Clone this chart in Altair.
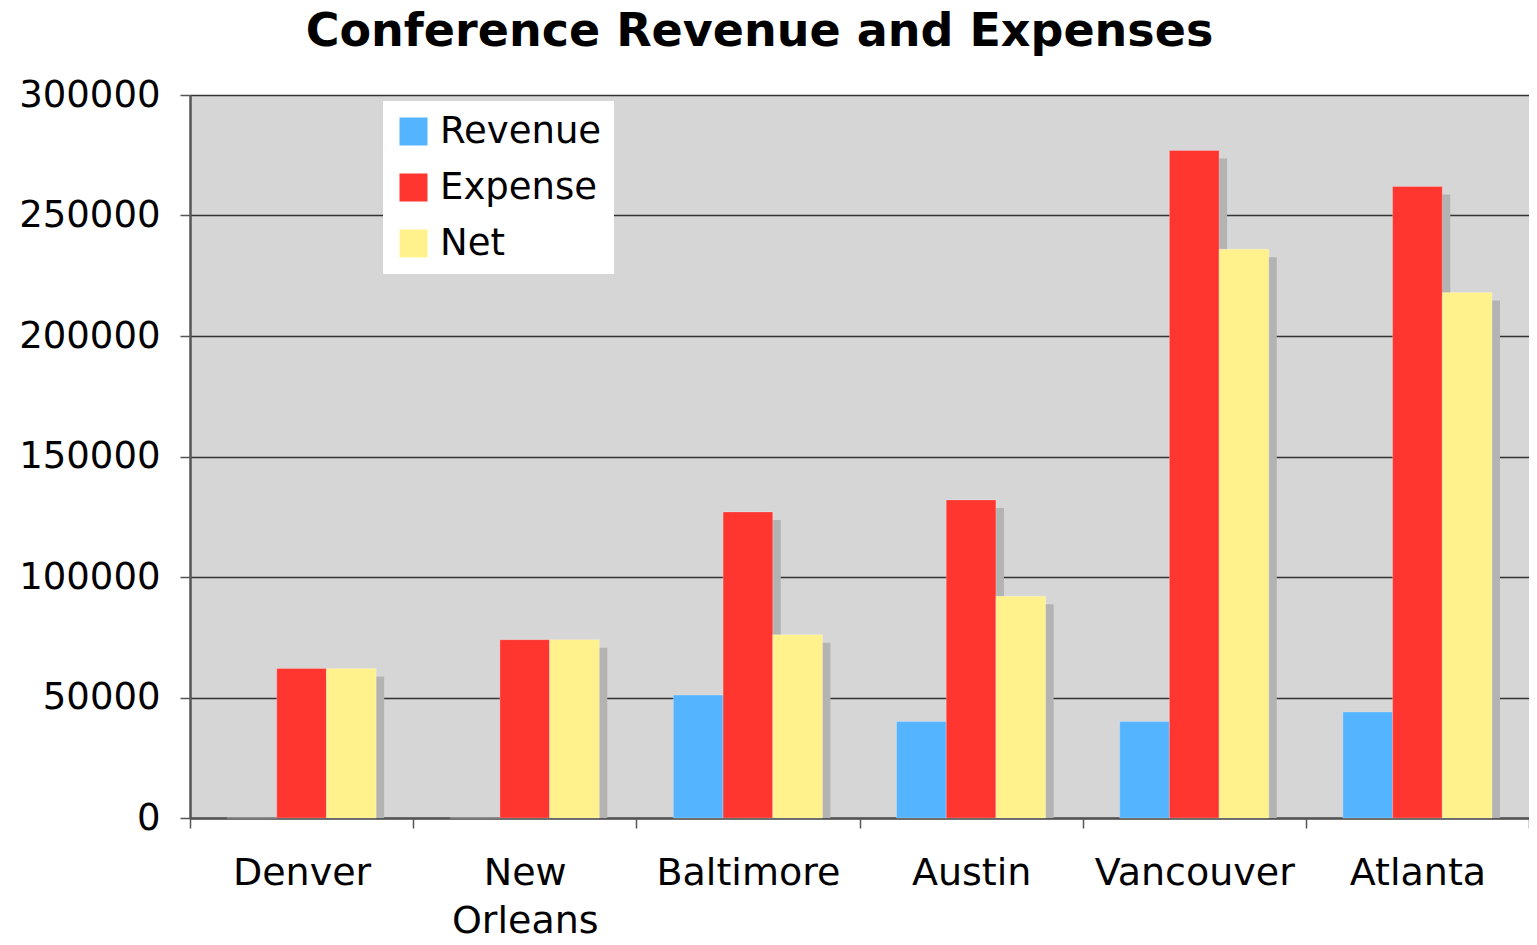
import altair as alt
import pandas as pd

cities = ["Denver", "New Orleans", "Baltimore", "Austin", "Vancouver", "Atlanta"]
series = ["Revenue", "Expense", "Net"]
revenue = [0, 0, 51000, 40000, 40000, 44000]
expense = [62000, 74000, 127000, 132000, 277000, 262000]
net = [62000, 74000, 76000, 92000, 236000, 218000]
colors = ["#55b4ff", "#ff3530", "#fff28c"]

rows = []
for i, c in enumerate(cities):
    for s, vals in zip(series, [revenue, expense, net]):
        rows.append({"City": c, "Series": s, "Value": vals[i]})
df = pd.DataFrame(rows)

FONT = "DejaVu Sans"
W = 1339
H = 723
BAND = W / len(cities)
SH = 8

x_enc = alt.X(
    "City:N",
    sort=cities,
    scale=alt.Scale(paddingInner=0, paddingOuter=0),
    axis=alt.Axis(
        title=None,
        labelAngle=0,
        labelFontSize=38,
        labelFont=FONT,
        labelColor="#000000",
        labelPadding=26,
        labelLimit=400,
        labelExpr="split(datum.label, ' ')",
        labelLineHeight=48,
        labelBaseline="top",
        tickBand="extent",
        tickSize=10,
        tickColor="#555555",
        tickWidth=1.5,
        domainColor="#555555",
        domainWidth=2.5,
        grid=False,
    ),
)


def xoff(shift):
    return alt.XOffset(
        "Series:N",
        sort=series,
        scale=alt.Scale(paddingInner=0, paddingOuter=0.745, range=[shift, BAND + shift]),
    )


y_enc = alt.Y(
    "Value:Q",
    scale=alt.Scale(domain=[0, 300000], nice=False),
    axis=alt.Axis(
        title=None,
        values=[0, 50000, 100000, 150000, 200000, 250000, 300000],
        format="d",
        labelFontSize=37,
        labelFont=FONT,
        labelColor="#000000",
        labelPadding=20,
        labelLimit=300,
        tickSize=10,
        tickColor="#555555",
        tickWidth=1.5,
        domainColor="#555555",
        domainWidth=2.5,
        gridColor="#333333",
        gridWidth=1.5,
    ),
)

shadow = alt.Chart(df).mark_bar(
    color="#b3b3b3", yOffset=SH, y2Offset=0, clip=True
).encode(x=x_enc, xOffset=xoff(SH), y=y_enc, y2=alt.datum(0))

bars = alt.Chart(df).mark_bar(
    stroke="#ffffff", strokeOpacity=0.25, strokeWidth=1
).encode(
    x=x_enc,
    xOffset=xoff(0),
    y=y_enc,
    color=alt.Color(
        "Series:N",
        sort=series,
        scale=alt.Scale(domain=series, range=colors),
        legend=alt.Legend(
            title=None,
            orient="none",
            legendX=193,
            legendY=6,
            fillColor="#ffffff",
            padding=12,
            symbolType="square",
            symbolSize=784,
            symbolStrokeWidth=0,
            labelFontSize=37,
            labelFont=FONT,
            labelColor="#000000",
            labelOffset=8,
            rowPadding=18,
            labelLimit=400,
        ),
    ),
)

chart = (
    alt.layer(shadow, bars)
    .resolve_scale(xOffset="independent")
    .properties(
        width=W,
        height=H,
        background="#ffffff",
        padding={"left": 182, "top": 87, "right": 0, "bottom": 124},
        autosize=alt.AutoSizeParams(type="none"),
        title=alt.TitleParams(
            "Conference Revenue and Expenses",
            fontSize=46,
            font=FONT,
            fontWeight="bold",
            color="#000000",
            anchor="middle",
            dx=-100,
            offset=20,
        ),
    )
    .configure_view(fill="#d6d6d6", strokeWidth=0)
)

chart.save("out.html", embed_options={"renderer": "svg", "actions": False})
